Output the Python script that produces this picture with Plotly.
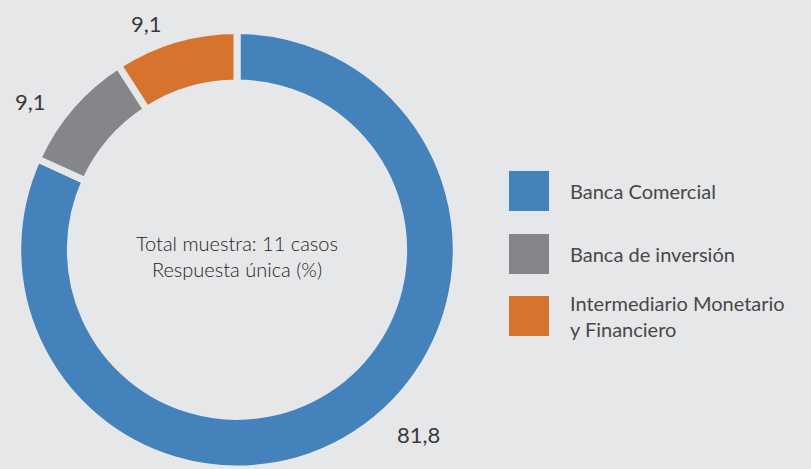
import plotly.graph_objects as go

# ---- data ----
categories = ["Banca Comercial", "Banca de inversión", "Intermediario Monetario<br>y Financiero"]
values = [81.8, 9.1, 9.1]
colors = ["#4382bb", "#858689", "#d6732c"]
center_lines = ["Total muestra: 11 casos", "Respuesta única (%)"]

value_labels = [f"{v:.1f}".replace(".", ",") for v in values]

BG = "#e6e7e8"
TXT = "#3a3a3a"
FONT = "Lato"

W, H = 811, 469

def px(x):
    return x / W

def py(y):
    return 1 - y / H

fig = go.Figure()
fig.add_trace(go.Pie(
    labels=categories,
    values=values,
    hole=0.76,
    sort=False,
    direction="clockwise",
    rotation=0,
    marker=dict(colors=colors, line=dict(color=BG, width=7)),
    textinfo="none",
    hoverinfo="label+value",
    showlegend=False,
    domain=dict(x=[px(237 - 221), px(237 + 221)], y=[0, py(30.5)]),
))

# value labels
label_pos = [(418, 434), (30, 101), (146, 24)]
annotations = []
for txt, (x, y) in zip(value_labels, label_pos):
    annotations.append(dict(
        x=px(x), y=py(y), xref="paper", yref="paper", text=txt,
        showarrow=False, xanchor="center", yanchor="middle",
        font=dict(family=FONT, size=22, color=TXT),
    ))

# centre text
annotations.append(dict(
    x=px(237), y=py(256), xref="paper", yref="paper",
    text="<br>".join(center_lines), showarrow=False,
    xanchor="center", yanchor="middle", align="center",
    font=dict(family=FONT, size=20, color="#1f1f1f", weight=300),
))

# custom legend
shapes = []
leg_rows = [(171, 211), (234, 274), (296, 336)]
for name, col, (y0, y1) in zip(categories, colors, leg_rows):
    shapes.append(dict(
        type="rect", xref="paper", yref="paper",
        x0=px(509), x1=px(549), y0=py(y1), y1=py(y0),
        fillcolor=col, line=dict(width=0),
    ))
    annotations.append(dict(
        x=px(568), y=py((y0 + y1) / 2), xref="paper", yref="paper",
        text=name, showarrow=False, xanchor="left", yanchor="middle",
        align="left",
        font=dict(family=FONT, size=20, color="#484848"),
    ))

fig.update_layout(
    width=W, height=H,
    margin=dict(l=0, r=0, t=0, b=0),
    paper_bgcolor=BG, plot_bgcolor=BG,
    annotations=annotations, shapes=shapes,
    showlegend=False,
)

fig.write_html(
    "out.html",
    config={"displayModeBar": False},
    post_script="document.body.style.margin='0';document.body.style.overflow='hidden';",
)
